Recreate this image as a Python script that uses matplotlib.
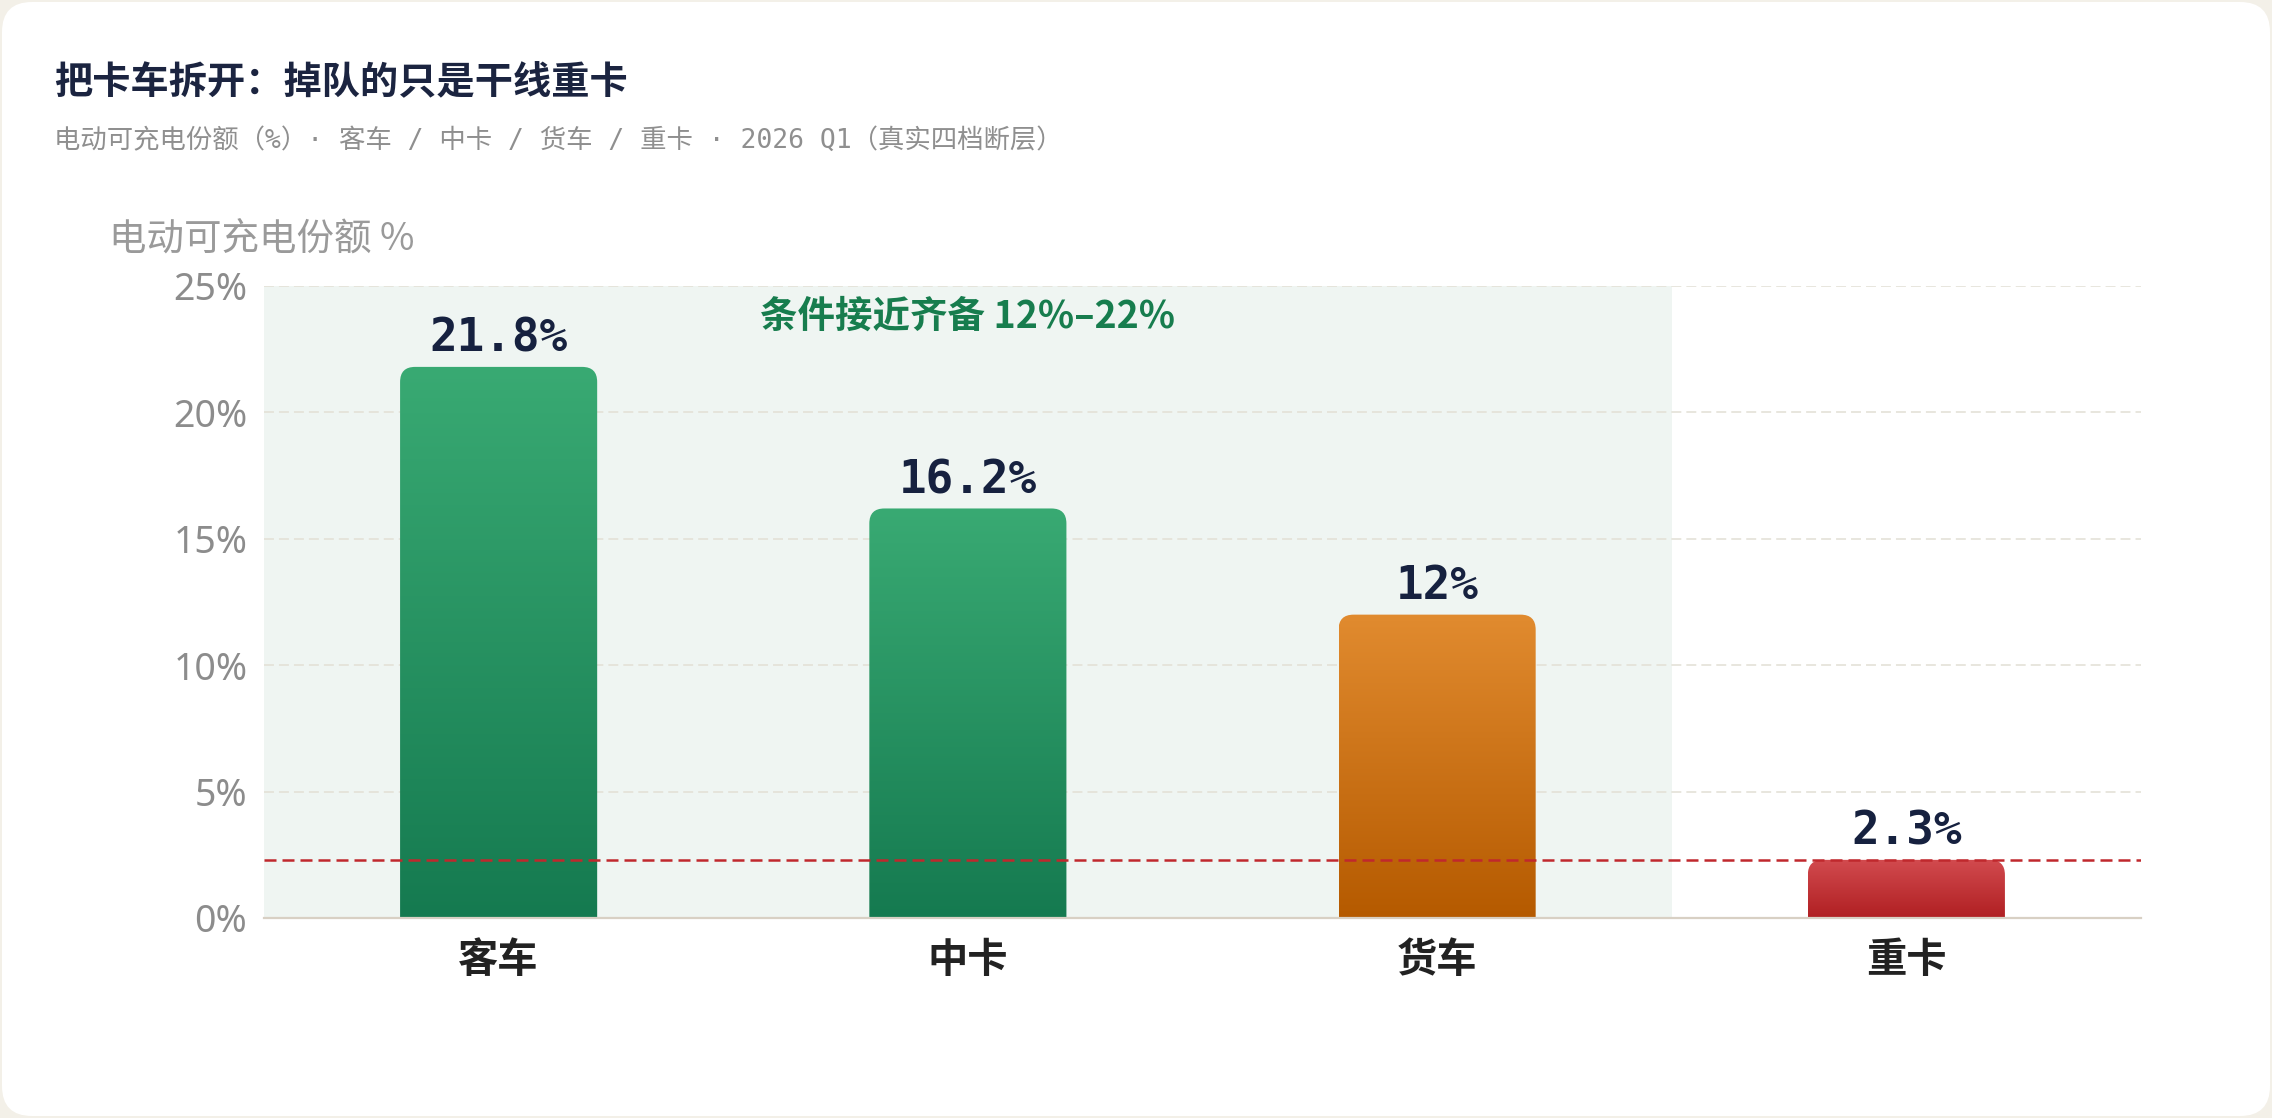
import matplotlib
matplotlib.use('Agg')
import matplotlib.pyplot as plt
import numpy as np
from matplotlib.patches import FancyBboxPatch
from matplotlib.colors import to_rgba

# ---------------- data ----------------
categories = ['客车', '中卡', '货车', '重卡']
values = [21.8, 16.2, 12.0, 2.3]
value_labels = ['21.8%', '16.2%', '12%', '2.3%']
top_colors = ['#39aa73', '#39aa73', '#e18b2f', '#d24b4f']
bottom_colors = ['#157a50', '#157a50', '#b55a00', '#b01f22']
yticks = [0, 5, 10, 15, 20, 25]
ytick_labels = ['0%', '5%', '10%', '15%', '20%', '25%']
threshold = 2.3
zone_start, zone_end = -0.5, 2.5
zone_label = '条件接近齐备 12%–22%'
title = '把卡车拆开：掉队的只是干线重卡'
subtitle = '电动可充电份额（%）· 客车 / 中卡 / 货车 / 重卡 · 2026 Q1（真实四档断层）'
ylabel = '电动可充电份额 %'

CJK = ['Noto Sans CJK SC', 'DejaVu Sans']

# ---------------- figure ----------------
W, H = 2272, 1118
fig = plt.figure(figsize=(W / 100, H / 100), dpi=100)
fig.patch.set_facecolor('#f3f0e8')
card = FancyBboxPatch((2 / W, 2 / H), 1 - 4 / W, 1 - 4 / H,
                      boxstyle=f'round,pad=0,rounding_size={30 / W}',
                      mutation_aspect=W / H, transform=fig.transFigure,
                      facecolor='white', edgecolor='none', zorder=-10)
fig.patches.append(card)

ax_l, ax_r, ax_t, ax_b = 264, 2141, 286, 918
ax = fig.add_axes([ax_l / W, 1 - ax_b / H, (ax_r - ax_l) / W, (ax_b - ax_t) / H])
ax.set_zorder(1)
ax.set_facecolor('white')

ax.set_xlim(-0.5, len(categories) - 0.5)
ax.set_ylim(0, 25)

# shaded zone
ax.axvspan(zone_start, zone_end, color='#eff5f2', zorder=0, lw=0)

# grid
ax.set_axisbelow(True)
ax.yaxis.grid(True, color='#e2dfd4', linewidth=1.1, linestyle=(0, (6.5, 3.3)))
ax.xaxis.grid(False)

for s in ['top', 'right', 'left']:
    ax.spines[s].set_visible(False)
ax.spines['bottom'].set_color('#d8d0c4')
ax.spines['bottom'].set_linewidth(1.6)
ax.spines['bottom'].set_zorder(3)

ax.set_yticks(yticks)
ax.set_yticklabels(ytick_labels)
ax.set_xticks(range(len(categories)))
ax.set_xticklabels(categories)
ax.tick_params(axis='y', length=0, pad=12, labelsize=27, labelcolor='#8c8c8c')
ax.tick_params(axis='x', length=0, pad=16, labelsize=29, labelcolor='#222222')
for lab in ax.get_yticklabels():
    lab.set_fontfamily(['Noto Sans', 'Noto Sans CJK SC'])
for lab in ax.get_xticklabels():
    lab.set_fontfamily(CJK)
    lab.set_fontweight('bold')

# bars (geometry from ax.bar, drawn with gradient + rounded top)
bars = ax.bar(range(len(categories)), values, width=0.42, color='none', edgecolor='none')
px_per_x = (ax_r - ax_l) / len(categories)
px_per_y = (ax_b - ax_t) / 25
r_px = 15
rx = r_px / px_per_x
ry = r_px / px_per_y
for i, rect in enumerate(bars):
    x0, w, h = rect.get_x(), rect.get_width(), rect.get_height()
    patch = FancyBboxPatch((x0, -2 * ry), w, h + 2 * ry,
                           boxstyle=f'round,pad=0,rounding_size={rx}',
                           mutation_aspect=ry / rx,
                           facecolor='none', edgecolor='none')
    ax.add_patch(patch)
    c1 = np.array(to_rgba(top_colors[i]))
    c2 = np.array(to_rgba(bottom_colors[i]))
    t = np.linspace(0, 1, 256)[:, None]
    arr = (c1[None, :] * (1 - t) + c2[None, :] * t)[:, None, :]
    im = ax.imshow(arr, extent=[x0, x0 + w, 0, h], origin='upper',
                   aspect='auto', zorder=2, interpolation='bilinear')
    im.set_clip_path(patch)
    ax.annotate(value_labels[i], (rect.get_x() + w / 2, h), xytext=(0, 11),
                textcoords='offset points', ha='center', va='baseline',
                fontsize=33, fontweight='bold', family='DejaVu Sans Mono',
                color='#16213f', zorder=5)

ax.set_xlim(-0.5, len(categories) - 0.5)
ax.set_ylim(0, 25)

# threshold line
ax.axhline(threshold, color='#c0282d', lw=1.8, ls=(0, (4.8, 2.4)), zorder=4)

# zone annotation
ax.text((zone_start + zone_end) / 2, 23.8, zone_label, ha='center', va='center',
        fontsize=27, fontweight='bold', color='#177d4e', family=CJK, zorder=5)

# texts
fig.text(54 / W, 1 - 83 / H, title, fontsize=27.5, fontweight='bold', color='#1b2440',
         va='center', ha='left', family=CJK)
fig.text(54 / W, 1 - 141 / H, subtitle, fontsize=19, color='#8f8f8f', va='center',
         ha='left', family=['DejaVu Sans Mono', 'Noto Sans CJK SC'])
fig.text(109 / W, 1 - 239 / H, ylabel, fontsize=27, color='#9a9a9a', va='center',
         ha='left', family=CJK)

fig.savefig('out.png', dpi=100, facecolor=fig.get_facecolor())
